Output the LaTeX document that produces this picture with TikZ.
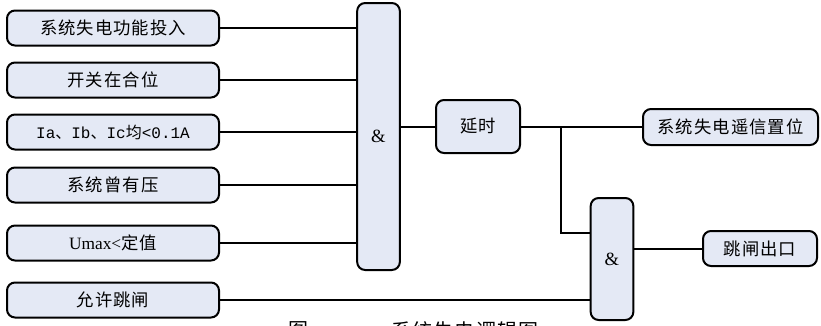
\documentclass[tikz,border=0pt]{standalone}
\usepackage{fontspec}
\setmainfont{Liberation Serif}
\setmonofont{Liberation Mono}
\newfontfamily\cjk[LetterSpace=6]{Noto Sans CJK SC}
\newfontfamily\cjkn{Noto Sans CJK SC}
\definecolor{boxfill}{HTML}{E4E9F5}
\begin{document}
\begin{tikzpicture}[x=0.75pt,y=-0.75pt,
  base/.style={draw=black,line width=1.5pt,fill=boxfill,rounded corners=6pt,inner sep=0pt,
     font=\fontsize{13pt}{15pt}\selectfont},
  inbox/.style={base,minimum width=159pt,minimum height=26.25pt},
  gate/.style={base,minimum width=32pt,font=\fontsize{14pt}{16pt}\selectfont},
  wire/.style={line width=1.5pt}]
\useasboundingbox (0,0) rectangle (821,325);
\node[inbox] (b1) at (113,28) {\cjk 系统失电功能投入};
\node[inbox] (b2) at (113,80) {\cjk 开关在合位};
\node[inbox] (b3) at (113,132) {\fontsize{12pt}{14pt}\selectfont\ttfamily Ia{\cjkn 、}Ib{\cjkn 、}Ic{\cjkn 均}<0.1A};
\node[inbox] (b4) at (113,185) {\cjk 系统曾有压};
\node[inbox] (b5) at (113,243) {Umax<{\cjk 定值}};
\node[inbox] (b6) at (113,300) {\cjk 允许跳闸};
\node[gate,minimum height=200.25pt] (g1) at (378.5,136.5) {\&};
\node[base,minimum width=63pt,minimum height=39.75pt] (dly) at (478,126.5) {\cjk 延时};
\node[base,minimum width=131.25pt,minimum height=27pt] (rs) at (730.5,127) {\cjk 系统失电遥信置位};
\node[gate,minimum height=91.5pt] (g2) at (612,259) {\&};
\node[base,minimum width=85.5pt,minimum height=26.25pt] (trip) at (760,248.5) {\cjk 跳闸出口};
\foreach \b in {b1,b2,b3,b4,b5}{
  \draw[wire] (\b.east) -- (\b.east -| g1.west);
}
\draw[wire] (g1.east |- dly.west) -- (dly.west);
\draw[wire] (dly.east) -- (rs.west |- dly.east);
\coordinate (j) at (561,127);
\draw[wire] (j) |- (g2.west |- 0,233);
\draw[wire] (b6.east) -- (b6.east -| g2.west);
\draw[wire] (g2.east |- trip.west) -- (trip.west);
\node[anchor=north,inner sep=0pt,font=\fontsize{15pt}{17pt}\selectfont\cjkn] (capa) at (298,321) {图};
\node[anchor=north,inner sep=0pt,font=\fontsize{15pt}{17pt}\selectfont\cjk] (capb) at (465,321) {系统失电逻辑图};
\end{tikzpicture}
\end{document}
